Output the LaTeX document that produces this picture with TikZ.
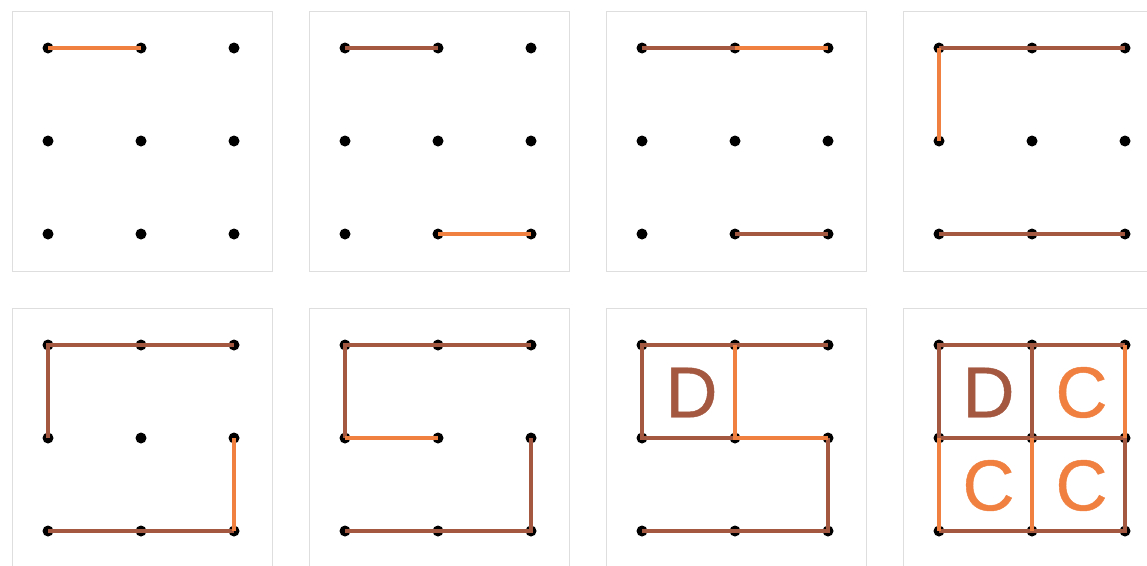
\documentclass[tikz,border=0pt]{standalone}
\usepackage{fontspec}
\setmainfont{Liberation Sans}
\newfontfamily\letterfont{Liberation Sans}[FakeBold=0.6]
\usetikzlibrary{calc}

\definecolor{edgeorange}{RGB}{240,128,64}
\definecolor{edgebrown}{RGB}{164,88,64}
\definecolor{framegray}{RGB}{222,222,222}

\tikzset{
  gdot/.style={circle, fill=black, inner sep=0pt, minimum size=11pt},
  newedge/.style={line width=3.5pt, edgeorange},
  oldedge/.style={line width=3.5pt, edgebrown},
  boxletter/.style={font=\letterfont\fontsize{72}{72}\selectfont, inner sep=0pt, xshift=3pt, yshift=-1pt},
}

\begin{document}
\begin{tikzpicture}[x=1pt, y=-1pt]
    \useasboundingbox (0,0) rectangle (1147,565);

    % frames and dot grids
    \foreach \p/\ox/\oy in {1/12/11, 2/309/11, 3/606/11, 4/903/11, 5/12/308, 6/309/308, 7/606/308, 8/903/308} {
        \draw[framegray, line width=1pt] (\ox,\oy) rectangle ++(260,260);
        \foreach \i in {0,1,2}
            \foreach \j in {0,1,2}
                \node[gdot] (p\p-\i\j) at (\ox+36+93*\i, \oy+37+93*\j) {};
    }

    % panel 1
    \draw[newedge] (p1-00.center) -- (p1-10.center);

    % panel 2
    \draw[oldedge] (p2-00.center) -- (p2-10.center);
    \draw[newedge] (p2-12.center) -- (p2-22.center);

    % panel 3
    \draw[oldedge] (p3-00.center) -- (p3-10.center);
    \draw[newedge] (p3-10.center) -- (p3-20.center);
    \draw[oldedge] (p3-12.center) -- (p3-22.center);

    % panel 4
    \draw[oldedge] (p4-00.center) -- (p4-10.center) -- (p4-20.center);
    \draw[oldedge] (p4-02.center) -- (p4-12.center) -- (p4-22.center);
    \draw[newedge] (p4-00.center) -- (p4-01.center);

    % panel 5
    \draw[oldedge] (p5-01.center) -- (p5-00.center) -- (p5-10.center) -- (p5-20.center);
    \draw[oldedge] (p5-02.center) -- (p5-12.center) -- (p5-22.center);
    \draw[newedge] (p5-21.center) -- (p5-22.center);

    % panel 6
    \draw[oldedge] (p6-01.center) -- (p6-00.center) -- (p6-10.center) -- (p6-20.center);
    \draw[oldedge] (p6-21.center) -- (p6-22.center) -- (p6-12.center) -- (p6-02.center);
    \draw[newedge] (p6-01.center) -- (p6-11.center);

    % panel 7
    \draw[oldedge] (p7-11.center) -- (p7-01.center) -- (p7-00.center) -- (p7-10.center) -- (p7-20.center);
    \draw[oldedge] (p7-21.center) -- (p7-22.center) -- (p7-12.center) -- (p7-02.center);
    \draw[newedge] (p7-10.center) -- (p7-11.center) -- (p7-21.center);
    \node[boxletter, edgebrown] (d7) at ($(p7-00)!0.5!(p7-11)$) {D};

    % panel 8
    \draw[oldedge] (p8-01.center) -- (p8-00.center) -- (p8-10.center) -- (p8-20.center);
    \draw[oldedge] (p8-10.center) -- (p8-11.center);
    \draw[oldedge] (p8-01.center) -- (p8-11.center) -- (p8-21.center) -- (p8-22.center) -- (p8-12.center) -- (p8-02.center);
    \draw[newedge] (p8-20.center) -- (p8-21.center);
    \draw[newedge] (p8-01.center) -- (p8-02.center);
    \draw[newedge] (p8-11.center) -- (p8-12.center);
    \node[boxletter, edgebrown] (d8) at ($(p8-00)!0.5!(p8-11)$) {D};
    \node[boxletter, edgeorange] (c8a) at ($(p8-10)!0.5!(p8-21)$) {C};
    \node[boxletter, edgeorange] (c8b) at ($(p8-01)!0.5!(p8-12)$) {C};
    \node[boxletter, edgeorange] (c8c) at ($(p8-11)!0.5!(p8-22)$) {C};

\end{tikzpicture}
\end{document}
